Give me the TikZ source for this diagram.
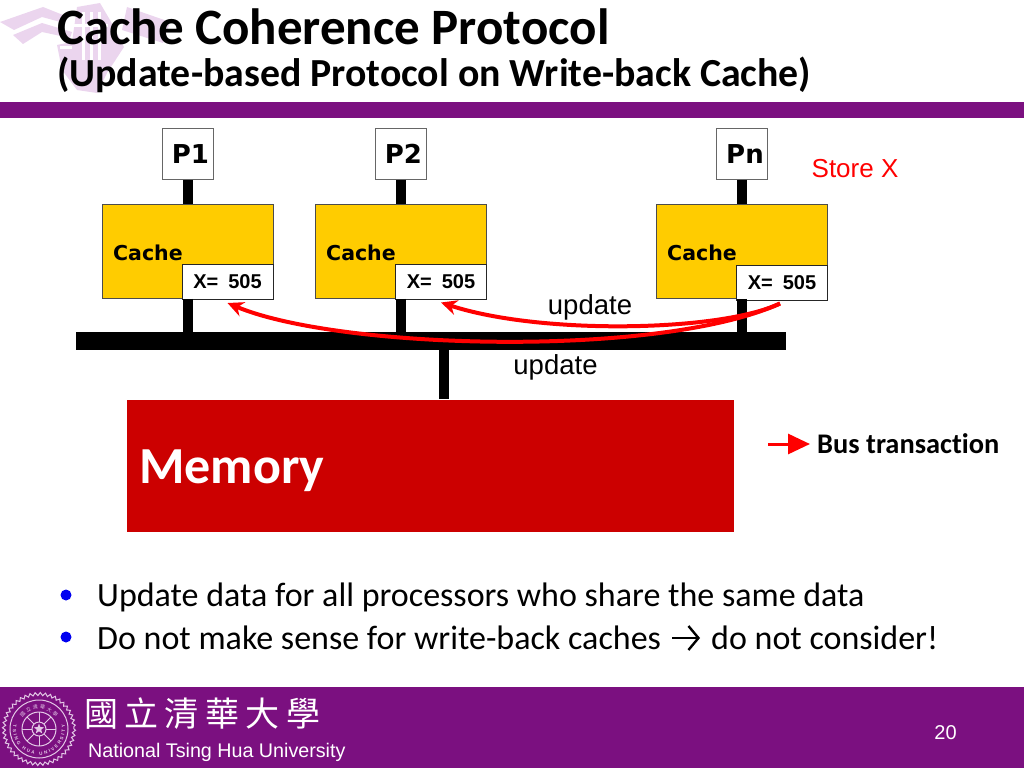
\documentclass[tikz,border=0pt]{standalone}
\usepackage{fontspec}
\setmainfont{Carlito}[Ligatures=CommonOff]
\newfontfamily\arialfont{Liberation Sans}
\newfontfamily\boxfont{DejaVu Sans}
\newfontfamily\cjkfont{Noto Sans CJK TC}
\usepackage{xcolor}
\usetikzlibrary{calc,arrows.meta,positioning,shapes.geometric,decorations.pathmorphing,decorations.text}
\definecolor{band}{HTML}{7B1080}
\definecolor{logo}{HTML}{EBD5EE}
\definecolor{cachefill}{HTML}{FFCC00}
\definecolor{memfill}{HTML}{CC0000}
\definecolor{redline}{HTML}{FF0000}
\definecolor{seal}{HTML}{E3C8E6}
\definecolor{dotblue}{HTML}{0000F0}
\tikzset{
  procbox/.style={draw=black!60, fill=white, line width=0.8pt, minimum width=51pt, minimum height=51pt, inner sep=0pt, font=\boxfont\fontsize{26}{26}\selectfont\bfseries},
  cachebox/.style={draw=black!70, fill=cachefill, line width=0.7pt, minimum width=171pt, minimum height=94pt, inner sep=0pt},
  cachelbl/.style={anchor=west, inner sep=0pt, font=\boxfont\fontsize{20.5}{20.5}\selectfont\bfseries},
  valbox/.style={draw=black!85, fill=white, line width=1pt, minimum width=91pt, minimum height=35pt, inner sep=0pt, font=\arialfont\fontsize{20}{20}\selectfont\bfseries},
  wire/.style={line width=10pt, draw=black},
  upd/.style={draw=redline, line width=4pt, -{Stealth[length=16pt,width=15pt]}},
  lbl/.style={font=\arialfont\fontsize{27.5}{27.5}\selectfont},
  bodytxt/.style={anchor=west, inner sep=0pt, font=\fontsize{34}{34}\selectfont},
  bulletdot/.style={fill=dotblue, circle, minimum size=11pt, inner sep=0pt},
  sealline/.style={draw=seal, line width=1pt}
}
\begin{document}
\begin{tikzpicture}[x=1pt,y=-1pt]
  \useasboundingbox (0,0) rectangle (1024,768);

  % logo behind the title
  \fill[logo] (0,22) -- (43,7) -- (68,17) -- (64,23) -- (42,17) -- (14,30) -- cycle;
  \fill[logo] (13,35) -- (42,23) -- (72,32) -- (70,38) -- (42,32) -- (23,44) -- cycle;
  \fill[logo] (127,7) -- (170,22) -- (163,43) -- (122,30) -- cycle;
  \fill[logo] (57,45) -- (72,42) -- (77,7) -- (100,3) -- (110,20) -- (124,47) -- (107,73) -- (97,93) -- (77,90) -- (62,70) -- cycle;
  \fill[white] (82,12) rectangle (85,60);
  \fill[white] (90,12) rectangle (93,70);
  \fill[white] (98,12) rectangle (101,60);
  \fill[white] (72,24) rectangle (108,27);
  \fill[white] (60,46) rectangle (72,49);

  \node[anchor=west, inner sep=0pt, font=\fontsize{51}{51}\selectfont\bfseries] (title) at (57,27) {Cache Coherence Protocol};
  \node[anchor=west, inner sep=0pt, font=\fontsize{39.8}{39.8}\selectfont\bfseries] (subtitle) at (57,75) {(Update-based Protocol on Write-back Cache)};
  \fill[band] (0,102) rectangle (1024,118);

  % processors and caches
  \node[procbox] (p1) at (187.5,154) {\hspace{6pt}P1};
  \node[procbox] (p2) at (400.5,154) {\hspace{6pt}P2};
  \node[procbox] (pn) at (742,154) {\hspace{6pt}Pn};
  \node[cachebox] (c1) at (187.5,251.5) {};
  \node[cachebox] (c2) at (400.5,251.5) {};
  \node[cachebox] (cn) at (742,251.5) {};
  \node[cachelbl] at (113,253) {Cache};
  \node[cachelbl] at (326,253) {Cache};
  \node[cachelbl] at (667,253) {Cache};
  \node[valbox] (v1) at (227.5,282) {X=\,\,\,505};
  \node[valbox] (v2) at (441,281.5) {X=\,\,\,505};
  \node[valbox] (vn) at (782,282.5) {X=\,\,\,505};

  % bus and memory
  \node[fill=black, minimum width=710pt, minimum height=18pt, inner sep=0pt] (bus) at (431,341) {};
  \node[fill=memfill, minimum width=607pt, minimum height=132pt, inner sep=0pt] (mem) at (430.5,465.5) {};
  \node[anchor=west, inner sep=0pt, text=white, font=\fontsize{52}{52}\selectfont\bfseries] at (139,471) {Memory};

  \draw[wire] (p1.south) -- (c1.north);
  \draw[wire] (p2.south) -- (c2.north);
  \draw[wire] (pn.south) -- (cn.north);
  \draw[wire] (c1.south) -- (c1.south |- bus.north);
  \draw[wire] (c2.south) -- (c2.south |- bus.north);
  \draw[wire] (cn.south) -- (cn.south |- bus.north);
  \draw[wire] (bus.south -| 443.5,0) -- (mem.north -| 443.5,0);

  % update arrows
  \coordinate (src) at ($(vn.south)+(-2,3)$);
  \coordinate (dst1) at ($(v1.south)+(0,3)$);
  \coordinate (dst2) at ($(v2.south)+(0,3)$);
  \draw[upd] (src) .. controls (660,358) and (340,350) .. (dst1);
  \draw[upd] (src) .. controls (720,332) and (540,335) .. (dst2);

  \node[lbl] at (590,307.5) {update};
  \node[lbl] at (555.5,367.5) {update};
  \node[text=redline, font=\arialfont\fontsize{26}{26}\selectfont] at (855,169) {Store X};

  % legend
  \coordinate (legA) at (768,444);
  \node[anchor=west, inner sep=0pt, font=\fontsize{28.4}{28.4}\selectfont\bfseries] (legend) at (817,444) {Bus transaction};
  \draw[draw=redline, line width=3pt, -{Triangle[length=22pt,width=20pt]}] (legA) -- (legend.west -| 810,0);

  % bullets
  \node[bulletdot] (b1) at (66,595) {};
  \node[bulletdot] (b2) at (66,637) {};
  \node[bodytxt] at (97,597) {Update data for all processors who share the same data};
  \node[bodytxt] (t1) at (97,638) {Do not make sense for write-back caches};
  \node[bodytxt] (t2) at (711,638) {do not consider!};
  \draw[line width=2.4pt, -{Straight Barb[length=10pt,width=24pt]}] (672,638) -- (700,638);

  % footer
  \fill[band] (0,687) rectangle (1024,768);
  \coordinate (sealc) at (39,729);
  \draw[sealline, decorate, decoration={zigzag,segment length=5pt,amplitude=1.5pt}] (sealc) circle (35);
  \draw[sealline] (sealc) circle (29);
  \draw[sealline] (sealc) circle (17);
  \draw[sealline] (sealc) circle (7);
  \foreach \a in {0,45,...,315} \draw[sealline] ($(sealc)+(\a:7)$) -- ($(sealc)+(\a:17)$);
  \node[star, star points=5, star point ratio=2.4, fill=seal, minimum size=11pt, inner sep=0pt] (sealstar) at (sealc) {};
  \path[decorate, decoration={text along path, text align={fit to path}, text={|\arialfont\fontsize{4.6}{4.6}\selectfont\bfseries\color{seal}|TSING HUA UNIVERSITY}}]
    (13.4,724.5) arc[start angle=170, end angle=370, x radius=26, y radius=-26];
  \path[decorate, decoration={text along path, text align={fit to path}, text={|\cjkfont\fontsize{5}{5}\selectfont\color{seal}|國立清華大學}}]
    (22.6,717.5) arc[start angle=215, end angle=325, x radius=20, y radius=20];
  \node[anchor=west, inner sep=0pt, text=white, font=\cjkfont\fontsize{34}{34}\selectfont] at (84,714) {國\hspace{6.4pt}立\hspace{6.4pt}清\hspace{6.4pt}華\hspace{6.4pt}大\hspace{6.4pt}學};
  \node[anchor=west, inner sep=0pt, text=white, font=\arialfont\fontsize{19.7}{19.7}\selectfont] at (88,752) {National Tsing Hua University};
  \node[text=white, font=\arialfont\fontsize{20}{20}\selectfont] at (945.5,733) {20};
\end{tikzpicture}
\end{document}
